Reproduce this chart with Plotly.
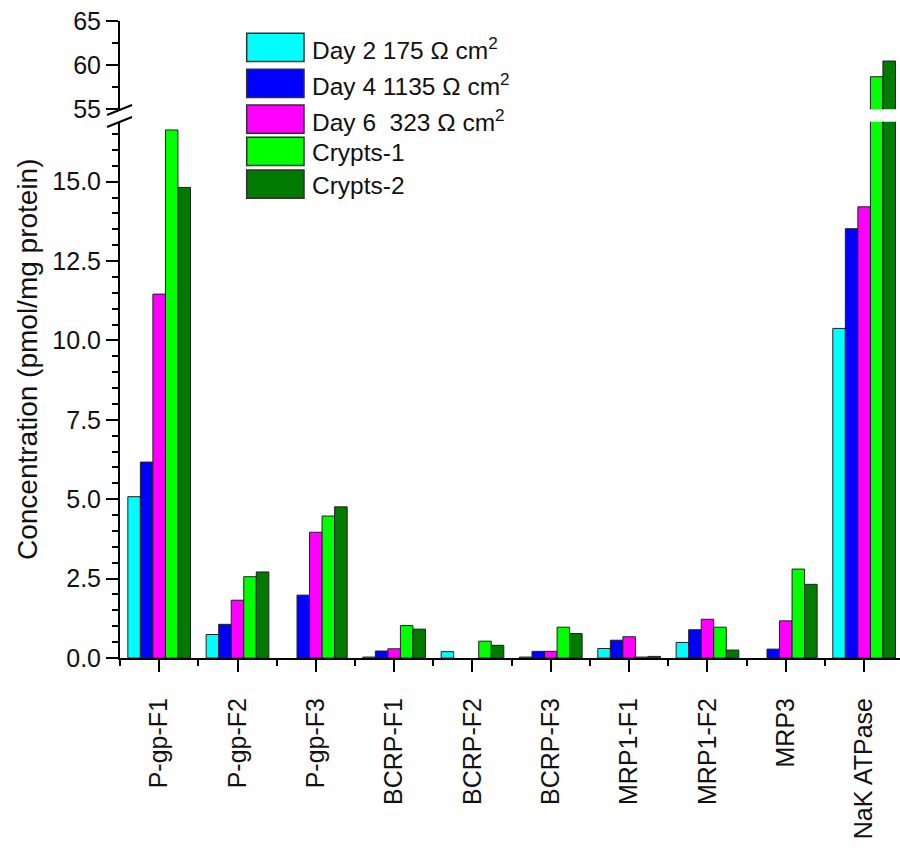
import plotly.graph_objects as go

categories = ["P-gp-F1", "P-gp-F2", "P-gp-F3", "BCRP-F1", "BCRP-F2", "BCRP-F3",
              "MRP1-F1", "MRP1-F2", "MRP3", "NaK ATPase"]
series_names = ["Day 2 175 Ω cm<sup>2</sup>", "Day 4 1135 Ω cm<sup>2</sup>",
                "Day 6\u00a0 323 Ω cm<sup>2</sup>", "Crypts-1", "Crypts-2"]
# None = not detected (no bar drawn)
day2 = [5.08, 0.74, None, 0.03, 0.20, 0.03, 0.30, 0.49, None, 10.38]
day4 = [6.17, 1.06, 1.98, 0.22, None, 0.21, 0.56, 0.89, 0.28, 13.52]
day6 = [11.46, 1.82, 3.96, 0.29, None, 0.21, 0.67, 1.22, 1.17, 14.21]
crypts1 = [16.63, 2.56, 4.47, 1.02, 0.53, 0.97, 0.03, 0.97, 2.80, 58.69]
crypts2 = [14.82, 2.71, 4.76, 0.91, 0.40, 0.77, 0.05, 0.25, 2.32, 60.47]
series_values = [day2, day4, day6, crypts1, crypts2]
colors = ["#00FFFF", "#0000FF", "#FF00FF", "#00FF00", "#007A00"]

lower_ticks = [0, 2.5, 5.0, 7.5, 10.0, 12.5, 15.0]
upper_ticks = [55, 60, 65]

FONT = "Liberation Sans, Arial, sans-serif"
W, H = 900, 852
ML, MR, MT, MB = 120, 0, 21, 194
PW, PH = W - ML - MR, H - MT - MB


def px_x(p):
    return (p - ML) / PW


def px_y(p):
    return (H - MB - p) / PH


xpos = list(range(len(categories)))

fig = go.Figure()
for name, vals, col in zip(series_names, series_values, colors):
    for xa, ya in (("x", "y"), ("x2", "y2")):
        fig.add_trace(go.Bar(
            x=xpos, y=vals, name=name, xaxis=xa, yaxis=ya,
            marker=dict(color=col, line=dict(color="#202020", width=1)),
            showlegend=False,
        ))

low_top = px_y(121.7)
up_bot = px_y(109.3)

axis_common = dict(showline=True, linecolor="black", linewidth=2,
                   ticks="outside", tickwidth=2, tickcolor="black",
                   showgrid=False, zeroline=False,
                   tickfont=dict(family=FONT, size=25, color="#111"))

fig.update_layout(
    width=W, height=H,
    margin=dict(l=ML, r=MR, t=MT, b=MB),
    paper_bgcolor="white", plot_bgcolor="white",
    barmode="group", bargap=0.2, bargroupgap=0,
    xaxis=dict(**axis_common, domain=[0, 1], anchor="y",
               range=[-0.5, -0.5 + PW / 78.33],
               tickmode="array", tickvals=xpos, ticktext=categories,
               ticklen=12, tickangle=-90, ticklabelstandoff=16,
               minor=dict(tickmode="array",
                          tickvals=[i - 0.5 for i in xpos],
                          ticks="outside", ticklen=6, tickwidth=2,
                          tickcolor="black")),
    xaxis2=dict(matches="x", anchor="y2", visible=False, domain=[0, 1]),
    yaxis=dict(**axis_common, domain=[0, low_top], anchor="x",
               range=[0, 16.89], tickmode="array", tickvals=lower_ticks,
               ticktext=[f"{v:.1f}" for v in lower_ticks], ticklen=12,
               minor=dict(tick0=0, dtick=0.5, ticks="outside", ticklen=6,
                          tickwidth=2, tickcolor="black")),
    yaxis2=dict(**axis_common, domain=[up_bot, 1], anchor="x2",
                range=[55, 65], tickmode="array", tickvals=upper_ticks,
                ticktext=[str(v) for v in upper_ticks], ticklen=12,
                minor=dict(tick0=55, dtick=2.5, ticks="outside", ticklen=6,
                           tickwidth=2, tickcolor="black")),
)

shapes = []
annotations = []
# axis break marks
for y0, y1 in ((115, 105), (127, 117)):
    shapes.append(dict(type="line", xref="paper", yref="paper",
                       x0=px_x(107), x1=px_x(132), y0=px_y(y0), y1=px_y(y1),
                       line=dict(color="black", width=2)))

# custom legend with large swatches
box_tops = [33.3, 69.3, 105.0, 137.3, 170.0]
box_h = 28.3
for top, name, col in zip(box_tops, series_names, colors):
    shapes.append(dict(type="rect", xref="paper", yref="paper",
                       x0=px_x(246.7), x1=px_x(304), y0=px_y(top + box_h), y1=px_y(top),
                       fillcolor=col, line=dict(color="#303030", width=1.5)))
    annotations.append(dict(xref="paper", yref="paper", x=px_x(310),
                            y=px_y(top + box_h / 2 + 1), xanchor="left",
                            yanchor="middle", showarrow=False, text=name,
                            font=dict(family=FONT, size=24.5, color="#111")))

# y-axis title
annotations.append(dict(xref="paper", yref="paper", x=px_x(28), y=px_y(359),
                        xanchor="center", yanchor="middle", textangle=-90,
                        showarrow=False,
                        text="Concentration (pmol/mg protein)",
                        font=dict(family=FONT, size=28, color="#111")))

fig.update_layout(shapes=shapes, annotations=annotations)
fig.write_html("out.html")
